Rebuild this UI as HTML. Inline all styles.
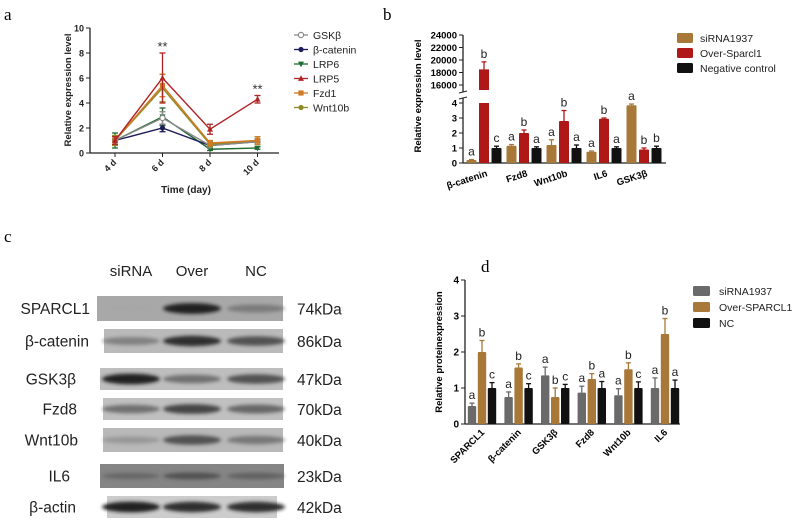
<!DOCTYPE html>
<html><head><meta charset="utf-8"><style>
html,body{margin:0;padding:0;background:#fff;}
svg{display:block;font-family:"Liberation Sans",sans-serif;}
</style></head><body>
<svg id="fig" width="800" height="521" viewBox="0 0 800 521">
<defs><filter id="blur" x="-20%" y="-50%" width="140%" height="200%"><feGaussianBlur stdDeviation="1.8"/></filter></defs>
<g id="pa"></g>
<g id="pb"></g>
<g id="pc"></g>
<g id="pd"></g>
</svg>
<script>
// ---- Panel a data ----
const aDays = ["4 d","6 d","8 d","10 d"];
const aSeries = ["GSKβ","β-catenin","LRP6","LRP5","Fzd1","Wnt10b"];
const aGSK = [1,2.8,0.6,0.9];
const aBcat = [1,2.0,0.6,0.9];
const aLRP6 = [1,2.9,0.3,0.4];
const aLRP5 = [1,6.0,1.9,4.3];
const aFzd1 = [1,5.4,0.8,1.0];
const aWnt = [1,5.2,0.7,1.0];
const aErrGSK = [0.3,0.5,0.15,0.2];
const aErrBcat = [0.3,0.3,0.15,0.2];
const aErrLRP6 = [0.6,0.7,0.1,0.1];
const aErrLRP5 = [0.3,2.0,0.4,0.3];
const aErrFzd1 = [0.3,0.9,0.2,0.3];
const aErrWnt = [0.4,1.1,0.2,0.3];
const aYTicks = [0,2,4,6,8,10];
// ---- Panel b data ----
const bGenes = ["β-catenin","Fzd8","Wnt10b","IL6","GSK3β"];
const bGroups = ["siRNA1937","Over-Sparcl1","Negative control"];
const bSi = [0.2,1.15,1.2,0.75,3.85];
const bOver = [18500,2.0,2.8,2.95,0.9];
const bNC = [1,1,1,1,1];
const bErrSi = [0.03,0.08,0.35,0.05,0.08];
const bErrOver = [1200,0.2,0.7,0.05,0.1];
const bErrNC = [0.12,0.08,0.2,0.08,0.12];
const bLetSi = ["a","a","a","a","a"];
const bLetOver = ["b","b","b","b","b"];
const bLetNC = ["c","a","a","a","b"];
const bLowTicks = [0,1,2,3,4];
const bHighTicks = [16000,18000,20000,22000,24000];
// ---- Panel d data ----
const dGenes = ["SPARCL1","β-catenin","GSK3β","Fzd8","Wnt10b","IL6"];
const dGroups = ["siRNA1937","Over-SPARCL1","NC"];
const dSi = [0.5,0.75,1.35,0.87,0.8,1.0];
const dOver = [2.0,1.57,0.75,1.25,1.52,2.5];
const dNC = [1,1,1,1,1,1];
const dErrSi = [0.08,0.14,0.23,0.18,0.18,0.28];
const dErrOver = [0.32,0.1,0.25,0.15,0.18,0.43];
const dErrNC = [0.15,0.12,0.1,0.18,0.17,0.22];
const dLetSi = ["a","a","a","a","a","a"];
const dLetOver = ["b","b","b","b","b","b"];
const dLetNC = ["c","c","c","a","c","a"];
const dTicks = [0,1,2,3,4];
// ---- Panel c data ----
const cLanes = ["siRNA","Over","NC"];
const cProteins = ["SPARCL1","β-catenin","GSK3β","Fzd8","Wnt10b","IL6","β-actin"];
const cKDa = ["74kDa","86kDa","47kDa","70kDa","40kDa","23kDa","42kDa"];
const cIntensity = [[0.15,0.95,0.5],[0.5,0.9,0.75],[0.95,0.6,0.75],[0.6,0.8,0.65],[0.35,0.75,0.55],[0.2,0.35,0.25],[0.95,0.9,0.9]];

const NS="http://www.w3.org/2000/svg";
function mk(p,tag,at,txt){const e=document.createElementNS(NS,tag);for(const k in at)e.setAttribute(k,at[k]);if(txt!==undefined)e.textContent=txt;p.appendChild(e);return e;}

// ===== Panel a =====
const pa=document.getElementById('pa');
const ax=i=>115+i*47.5, ay=v=>153-v*12.5;
let t=mk(pa,'text',{x:4,y:20,'font-family':'Liberation Serif,serif','font-size':17},'a');

let l=mk(pa,'line',{x1:90,y1:ay(10),x2:90,y2:153,stroke:'#222','stroke-width':1.3});

l=mk(pa,'line',{x1:90,y1:153,x2:279,y2:153,stroke:'#222','stroke-width':1.3});

aYTicks.forEach(v=>{mk(pa,'line',{x1:86,y1:ay(v),x2:90,y2:ay(v),stroke:'#222'});
 t=mk(pa,'text',{x:84,y:ay(v)+3.5,'font-size':9,'font-weight':'bold','text-anchor':'end',fill:'#222'},v);
 });
aDays.forEach((d,i)=>{mk(pa,'line',{x1:ax(i),y1:153,x2:ax(i),y2:157,stroke:'#222'});
 t=mk(pa,'text',{x:ax(i)+2,y:163,'font-size':9,'font-weight':'bold','text-anchor':'end',fill:'#222',transform:`rotate(-45 ${ax(i)+2} 163)`},d);
 });
t=mk(pa,'text',{x:186,y:193,'font-size':10,'font-weight':'bold','text-anchor':'middle',fill:'#222'},'Time (day)');

t=mk(pa,'text',{x:0,y:0,'font-size':9.5,'font-weight':'bold','text-anchor':'middle',fill:'#222',transform:'translate(71,90) rotate(-90)'},'Relative expression level');

const aData=[aGSK,aBcat,aLRP6,aLRP5,aFzd1,aWnt], aErr=[aErrGSK,aErrBcat,aErrLRP6,aErrLRP5,aErrFzd1,aErrWnt];
const aCol=['#8a8a8a','#1c1c5a','#1e6a30','#b02424','#d07a24','#8e8a26'];
const aMk=['ocircle','circle','tdown','tup','square','circle'];
function marker(g,type,x,y,c){
 if(type==='ocircle')return mk(g,'circle',{cx:x,cy:y,r:2.6,fill:'#fff',stroke:c,'stroke-width':1.2});
 if(type==='circle')return mk(g,'circle',{cx:x,cy:y,r:2.6,fill:c});
 if(type==='square')return mk(g,'rect',{x:x-2.6,y:y-2.6,width:5.2,height:5.2,fill:c});
 if(type==='tup')return mk(g,'polygon',{points:`${x},${y-3.2} ${x-3},${y+2.4} ${x+3},${y+2.4}`,fill:c});
 return mk(g,'polygon',{points:`${x},${y+3.2} ${x-3},${y-2.4} ${x+3},${y-2.4}`,fill:c});}
[2,1,0,5,4,3].forEach(s=>{
 const g=mk(pa,'g',{});
 const pts=aData[s].map((v,i)=>ax(i)+','+ay(v)).join(' ');
 mk(g,'polyline',{points:pts,fill:'none',stroke:aCol[s],'stroke-width':1.4});
 aData[s].forEach((v,i)=>{const e=aErr[s][i],x=ax(i);
  mk(g,'line',{x1:x,y1:ay(v),x2:x,y2:ay(v+e),stroke:aCol[s],'stroke-width':1.3});
  mk(g,'line',{x1:x-3,y1:ay(v+e),x2:x+3,y2:ay(v+e),stroke:aCol[s],'stroke-width':1.3});
  mk(g,'line',{x1:x,y1:ay(v),x2:x,y2:ay(v-e),stroke:aCol[s],'stroke-width':1.3});
  mk(g,'line',{x1:x-3,y1:ay(v-e),x2:x+3,y2:ay(v-e),stroke:aCol[s],'stroke-width':1.3});
  const m=marker(g,aMk[s],x,ay(v),aCol[s]);});
});
t=mk(pa,'text',{x:ax(1),y:ay(8)-2,'font-size':13,'text-anchor':'middle',fill:'#333'},'**');
t=mk(pa,'text',{x:ax(3),y:ay(aLRP5[3]+aErrLRP5[3])-2,'font-size':13,'text-anchor':'middle',fill:'#333'},'**');
aSeries.forEach((n,s)=>{const y=35+s*14.5;const g=mk(pa,'g',{});
 mk(g,'line',{x1:294,y1:y,x2:308,y2:y,stroke:aCol[s],'stroke-width':1.3});marker(g,aMk[s],301,y,aCol[s]);
 mk(g,'text',{x:313,y:y+3.8,'font-size':10.5,fill:'#222'},n);});

// ===== Panel b =====
const pb=document.getElementById('pb');
const yl=v=>163-v*15, yu=v=>85-(v-16000)*50/8000;
const bx=(g,k)=>484+g*40+(k-1)*12.5;
t=mk(pb,'text',{x:383,y:20,'font-family':'Liberation Serif,serif','font-size':17},'b');
l=mk(pb,'line',{x1:463,y1:98,x2:463,y2:163,stroke:'#222','stroke-width':1.3});
l=mk(pb,'line',{x1:463,y1:yu(24000),x2:463,y2:92,stroke:'#222','stroke-width':1.3});
mk(pb,'line',{x1:459,y1:93,x2:467,y2:91,stroke:'#222'});mk(pb,'line',{x1:459,y1:99,x2:467,y2:97,stroke:'#222'});
l=mk(pb,'line',{x1:463,y1:163,x2:666,y2:163,stroke:'#222','stroke-width':1.3});
bLowTicks.forEach(v=>{mk(pb,'line',{x1:459,y1:yl(v),x2:463,y2:yl(v),stroke:'#222'});
 t=mk(pb,'text',{x:457,y:yl(v)+3.5,'font-size':9.5,'font-weight':'bold','text-anchor':'end'},v);});
bHighTicks.forEach(v=>{mk(pb,'line',{x1:459,y1:yu(v),x2:463,y2:yu(v),stroke:'#222'});
 t=mk(pb,'text',{x:457,y:yu(v)+3.5,'font-size':9.5,'font-weight':'bold','text-anchor':'end'},v);});
t=mk(pb,'text',{x:0,y:0,'font-size':9.5,'font-weight':'bold','text-anchor':'middle',transform:'translate(421,96) rotate(-90)'},'Relative expression level');
const bData=[bSi,bOver,bNC],bErr=[bErrSi,bErrOver,bErrNC],bLet=[bLetSi,bLetOver,bLetNC],bCol=['#a87838','#b01818','#111'];
function by(v){return v>4?yu(v):yl(v);}
bGenes.forEach((gn,g)=>{
 [0,1,2].forEach(k=>{const v=bData[k][g],e=bErr[k][g],x=bx(g,k),c=bCol[k];
  const grp=mk(pb,'g',{});
  if(v>4){mk(grp,'rect',{x:x-5,y:yl(4),width:10,height:163-yl(4),fill:c});
   mk(grp,'rect',{x:x-5,y:yu(v),width:10,height:90-yu(v),fill:c});}
  else mk(grp,'rect',{x:x-5,y:yl(v),width:10,height:163-yl(v),fill:c,rx:1});
  const top=by(v+e);
  mk(grp,'line',{x1:x,y1:by(v),x2:x,y2:top,stroke:c,'stroke-width':1.3});
  mk(grp,'line',{x1:x-2.5,y1:top,x2:x+2.5,y2:top,stroke:c,'stroke-width':1.3});
  const tt=mk(pb,'text',{x:x,y:top-4,'font-size':12,'text-anchor':'middle',fill:'#222'},bLet[k][g]);});
 const cx=bx(g,1)+4;
 t=mk(pb,'text',{x:cx,y:176,'font-size':9.5,'font-weight':'bold','text-anchor':'end',transform:`rotate(-18 ${cx} 176)`},gn);});
bGroups.forEach((n,k)=>{const y=38+k*15;const g=mk(pb,'g',{});
 mk(g,'rect',{x:677,y:y-5,width:16,height:10,fill:bCol[k],rx:1.5});mk(g,'text',{x:700,y:y+3.8,'font-size':10.5,fill:'#222'},n);});

// ===== Panel c =====
const pc=document.getElementById('pc');
t=mk(pc,'text',{x:4,y:242,'font-family':'Liberation Serif,serif','font-size':17},'c');
const laneX=[131,192,256];
cLanes.forEach((n,i)=>{t=mk(pc,'text',{x:laneX[i],y:276,'font-size':15,'text-anchor':'middle',fill:'#222'},n);});
const strips=[[97,296,283,25,'#a8a8a8'],[104,329,283,24,'#bababa'],[100,368,283,22,'#bebebe'],[103,398,283,22,'#c0c0c0'],[103,428,283,24,'#b8b8b8'],[100,464,284,24,'#858585'],[107,496,277,22,'#cccccc']];
const labX=[90,89,76,77,78,70,76];
cProteins.forEach((p,r)=>{const s=strips[r];
 const g=mk(pc,'g',{});
 mk(g,'rect',{x:s[0],y:s[1],width:s[2]-s[0],height:s[3],fill:s[4]});
 cLanes.forEach((n,i)=>{const it=cIntensity[r][i];
  const base=r===5?110:190;const d=Math.max(10,Math.round(base-it*170));
  const b=mk(g,'ellipse',{cx:laneX[i],cy:s[1]+s[3]/2,rx:29,ry:2.5+it*3,fill:`rgb(${d},${d},${d})`,opacity:0.4+it*0.6,filter:'url(#blur)'});
  });
 t=mk(pc,'text',{x:labX[r],y:s[1]+s[3]/2+5.5,'font-size':15.5,'text-anchor':'end',fill:'#222'},p);
 t=mk(pc,'text',{x:297,y:s[1]+s[3]/2+6,'font-size':15.5,fill:'#222'},cKDa[r]);});

// ===== Panel d =====
const pd=document.getElementById('pd');
const dy=v=>424-v*36, dx=(g,k)=>482+g*36.6+(k-1)*10;
t=mk(pd,'text',{x:481,y:272,'font-family':'Liberation Serif,serif','font-size':17},'d');
l=mk(pd,'line',{x1:465,y1:dy(4),x2:465,y2:424,stroke:'#222','stroke-width':1.3});
l=mk(pd,'line',{x1:465,y1:424,x2:680,y2:424,stroke:'#222','stroke-width':1.3});
dTicks.forEach(v=>{mk(pd,'line',{x1:461,y1:dy(v),x2:465,y2:dy(v),stroke:'#222'});
 t=mk(pd,'text',{x:459,y:dy(v)+3.5,'font-size':10,'font-weight':'bold','text-anchor':'end'},v);});
t=mk(pd,'text',{x:0,y:0,'font-size':9.5,'font-weight':'bold','text-anchor':'middle',transform:'translate(442,352) rotate(-90)'},'Relative proteinexpression');
const dData=[dSi,dOver,dNC],dErr=[dErrSi,dErrOver,dErrNC],dLet=[dLetSi,dLetOver,dLetNC],dCol=['#6a6a6a','#a87838','#111'];
dGenes.forEach((gn,g)=>{
 [0,1,2].forEach(k=>{const v=dData[k][g],e=dErr[k][g],x=dx(g,k),c=dCol[k];
  const grp=mk(pd,'g',{});
  mk(grp,'rect',{x:x-4.2,y:dy(v),width:8.4,height:424-dy(v),fill:c,rx:1});
  mk(grp,'line',{x1:x,y1:dy(v),x2:x,y2:dy(v+e),stroke:c,'stroke-width':1.3});
  mk(grp,'line',{x1:x-2.5,y1:dy(v+e),x2:x+2.5,y2:dy(v+e),stroke:c,'stroke-width':1.3});
  const tt=mk(pd,'text',{x:x,y:dy(v+e)-4,'font-size':12,'text-anchor':'middle',fill:'#222'},dLet[k][g]);});
 const cx=dx(g,1)+3;
 t=mk(pd,'text',{x:cx,y:433,'font-size':9.5,'font-weight':'bold','text-anchor':'end',transform:`rotate(-45 ${cx} 433)`},gn);});
dGroups.forEach((n,k)=>{const y=291+k*16;const g=mk(pd,'g',{});
 mk(g,'rect',{x:693,y:y-5,width:17,height:10,fill:dCol[k],rx:1.5});mk(g,'text',{x:719,y:y+3.8,'font-size':10.5,fill:'#222'},n);});
</script>
</body></html>
